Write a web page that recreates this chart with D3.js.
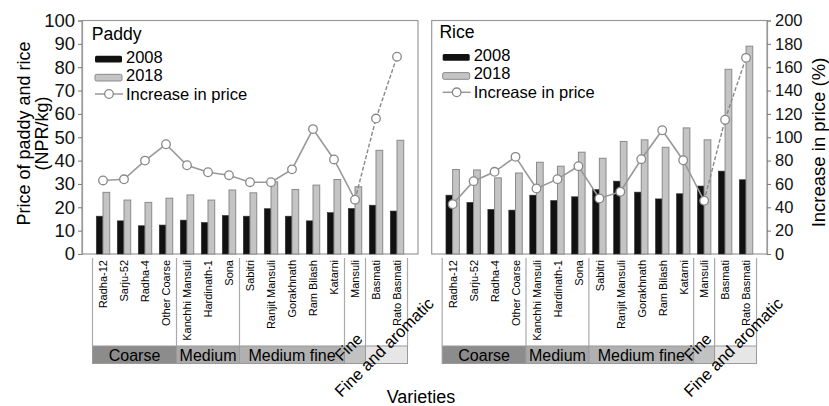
<!DOCTYPE html>
<html><head><meta charset="utf-8">
<script src="https://cdn.jsdelivr.net/npm/d3@7"></script>
<style>body{margin:0;background:#fff}svg{display:block}</style>
</head><body><svg id="c" width="829" height="406"></svg>
<script>
const categories = ["Radha-12","Sarju-52","Radha-4","Other Coarse","Kanchhi Mansuli","Hardinath-1","Sona","Sabitri","Ranjit Mansuli","Gorakhnath","Ram Bilash","Katarni","Mansuli","Basmati","Rato Basmati"];
const groupNames = ["Coarse","Medium","Medium fine","Fine","Fine and aromatic"];
const groupSizes = [4,3,5,1,2];
const paddy2008 = [16.2,14.2,12.1,12.4,14.5,13.5,16.5,16.2,19.4,16.2,14.2,17.7,19.5,20.9,18.4];
const paddy2018 = [26.4,23.1,22.1,23.9,25.3,23.1,27.4,26.2,30.9,27.6,29.5,31.9,28.8,44.4,48.7];
const paddyIncrease = [63,64,80,94,76,70,67.5,61.5,61.5,72.5,107,81,46.5,116,169];
const rice2008 = [25.2,22.1,19.1,18.8,25.2,22.9,24.5,27.6,31.2,26.5,23.6,25.8,29.1,35.5,31.8];
const rice2018 = [36.2,36.0,32.6,34.7,39.3,37.6,43.6,41.0,48.2,48.9,45.7,54.0,48.9,79.1,89.0];
const riceIncrease = [42.7,62.4,70.4,83.2,56.1,64.1,75.2,47.6,53.3,81.2,106,80.3,45.6,115,168];
const priceTicks = d3.range(0,101,10);
const pctTicks = d3.range(0,201,20);
const seriesNames = ["2008","2018","Increase in price"];

const FONT = '"Liberation Sans", Arial, sans-serif';
const svg = d3.select("#c");
const yTop = 20.5, yBot = 254;
const yPrice = d3.scaleLinear().domain([0,100]).range([yBot,yTop]);
const yPct = d3.scaleLinear().domain([0,200]).range([yBot,yTop]);

const panels = [
  {title:"Paddy", x0:82, x1:418, a:paddy2008, b:paddy2018, inc:paddyIncrease, lg:{x:95,y:0}},
  {title:"Rice", x0:431.7, x1:767, a:rice2008, b:rice2018, inc:riceIncrease, lg:{x:442.7,y:-1.7}}
];

panels.forEach((p,pi)=>{
  const x = d3.scaleBand().domain(categories).range([p.x0,p.x1]).paddingInner(0.36).paddingOuter(0.68);
  const bw = x.bandwidth();
  const step = x.step();
  const cx = c => x(c) + bw/2;
  const g = svg.append("g");
  g.append("rect").attr("x",p.x0).attr("y",yTop).attr("width",p.x1-p.x0).attr("height",yBot-yTop)
    .attr("fill","#fff").attr("stroke","#999").attr("stroke-width",1.2);
  g.selectAll(".b8").data(categories).join("rect")
    .attr("x",c=>cx(c)-bw/2).attr("width",bw/2)
    .attr("y",(c,i)=>yPrice(p.a[i])).attr("height",(c,i)=>yBot-yPrice(p.a[i]))
    .attr("fill","#111").attr("stroke","#333").attr("stroke-width",0.6);
  g.selectAll(".b18").data(categories).join("rect")
    .attr("x",c=>cx(c)).attr("width",bw/2)
    .attr("y",(c,i)=>yPrice(p.b[i])).attr("height",(c,i)=>yBot-yPrice(p.b[i]))
    .attr("fill","#c4c4c4").attr("stroke","#8a8a8a").attr("stroke-width",1);
  const pts = categories.map((c,i)=>[cx(c), yPct(p.inc[i])]);
  const line = d3.line();
  g.append("path").attr("d",line(pts.slice(0,13))).attr("fill","none").attr("stroke","#999").attr("stroke-width",1.6);
  g.append("path").attr("d",line(pts.slice(12))).attr("fill","none").attr("stroke","#888").attr("stroke-width",1.4).attr("stroke-dasharray","4,2");
  g.selectAll(".pt").data(pts).join("circle").attr("cx",d=>d[0]).attr("cy",d=>d[1]).attr("r",4.3)
    .attr("fill","#fff").attr("stroke","#888").attr("stroke-width",1.3);
  const L = p.lg;
  g.append("text").attr("x",L.x-3.3).attr("y",40+L.y).attr("font-size",17.6).text(p.title);
  g.append("rect").attr("x",L.x).attr("y",55.8+L.y).attr("width",27).attr("height",6.7).attr("rx",1.5).attr("fill","#111");
  g.append("rect").attr("x",L.x).attr("y",74.3+L.y).attr("width",27).attr("height",6.7).attr("rx",1.5).attr("fill","#c4c4c4").attr("stroke","#8a8a8a");
  g.append("line").attr("x1",L.x).attr("x2",L.x+28).attr("y1",94+L.y).attr("y2",94+L.y).attr("stroke","#999").attr("stroke-width",1.5);
  g.append("circle").attr("cx",L.x+14).attr("cy",94+L.y).attr("r",4.3).attr("fill","#fff").attr("stroke","#888").attr("stroke-width",1.3);
  [62.5,81,99.5].forEach((yy,k)=>{
    g.append("text").attr("x",L.x+31).attr("y",yy+L.y).attr("font-size",16.5).text(seriesNames[k]);
  });
  g.selectAll(".cl").data(categories).join("text")
    .attr("transform",c=>`translate(${cx(c)+0.5},260) rotate(-90)`)
    .attr("text-anchor","end").attr("dy","0.35em").attr("font-size",11).text(c=>c);
  let s = 0;
  const bounds = [];
  groupSizes.forEach((n,k)=>{
    const xs = cx(categories[s]) - step/2;
    const xe = cx(categories[s+n-1]) + step/2;
    bounds.push({xs,xe,name:groupNames[k],k});
    s += n;
  });
  const fills = ["#8c8c8c","#a8a8a8","#b0b0b0","#c2c2c2","#e6e6e6"];
  bounds.forEach(b=>{
    g.append("rect").attr("x",b.xs).attr("y",346).attr("width",b.xe-b.xs).attr("height",17.5)
      .attr("fill",fills[b.k]).attr("stroke","#9a9a9a").attr("stroke-width",1);
  });
  const lineXs = bounds.map(b=>b.xs).concat([bounds[bounds.length-1].xe]);
  lineXs.forEach(lx=>{
    g.append("line").attr("x1",lx).attr("x2",lx).attr("y1",258).attr("y2",346).attr("stroke","#aaa").attr("stroke-width",1.2);
  });
  bounds.forEach(b=>{
    if (b.k<3) {
      g.append("text").attr("x",(b.xs+b.xe)/2).attr("y",361).attr("text-anchor","middle").attr("font-size",16).text(b.name);
    }
  });
  const fineX = bounds[3].xs;
  g.append("text").attr("transform",`translate(${fineX-3},362) rotate(-45)`).attr("font-size",16).text(groupNames[3]);
  g.append("text").attr("transform",`translate(${fineX-3},398) rotate(-45)`).attr("font-size",16.5).text(groupNames[4]);
});

const axL = svg.append("g").attr("transform","translate(82,0)")
  .call(d3.axisLeft(yPrice).tickValues(priceTicks).tickSize(4).tickPadding(3));
axL.select(".domain").attr("stroke","#999").attr("stroke-width",1.2);
axL.selectAll(".tick line").attr("stroke","#777");
axL.selectAll("text").attr("font-size",18.5).attr("fill","#111");
const axR = svg.append("g").attr("transform","translate(767,0)")
  .call(d3.axisRight(yPct).tickValues(pctTicks).tickSize(4).tickPadding(4));
axR.select(".domain").attr("stroke","#999").attr("stroke-width",1.2);
axR.selectAll(".tick line").attr("stroke","#777");
axR.selectAll("text").attr("font-size",16.5).attr("fill","#111");

svg.append("text").attr("transform","translate(30,133.5) rotate(-90)").attr("text-anchor","middle").attr("font-size",18).text("Price of paddy and rice");
svg.append("text").attr("transform","translate(48,133.5) rotate(-90)").attr("text-anchor","middle").attr("font-size",18).text("(NPR/kg)");
svg.append("text").attr("transform","translate(825,142.5) rotate(-90)").attr("text-anchor","middle").attr("font-size",18.5).text("Increase in price (%)");
svg.append("text").attr("x",421).attr("y",403).attr("text-anchor","middle").attr("font-size",18).text("Varieties");
svg.selectAll("text").attr("font-family",FONT);
</script></body></html>
